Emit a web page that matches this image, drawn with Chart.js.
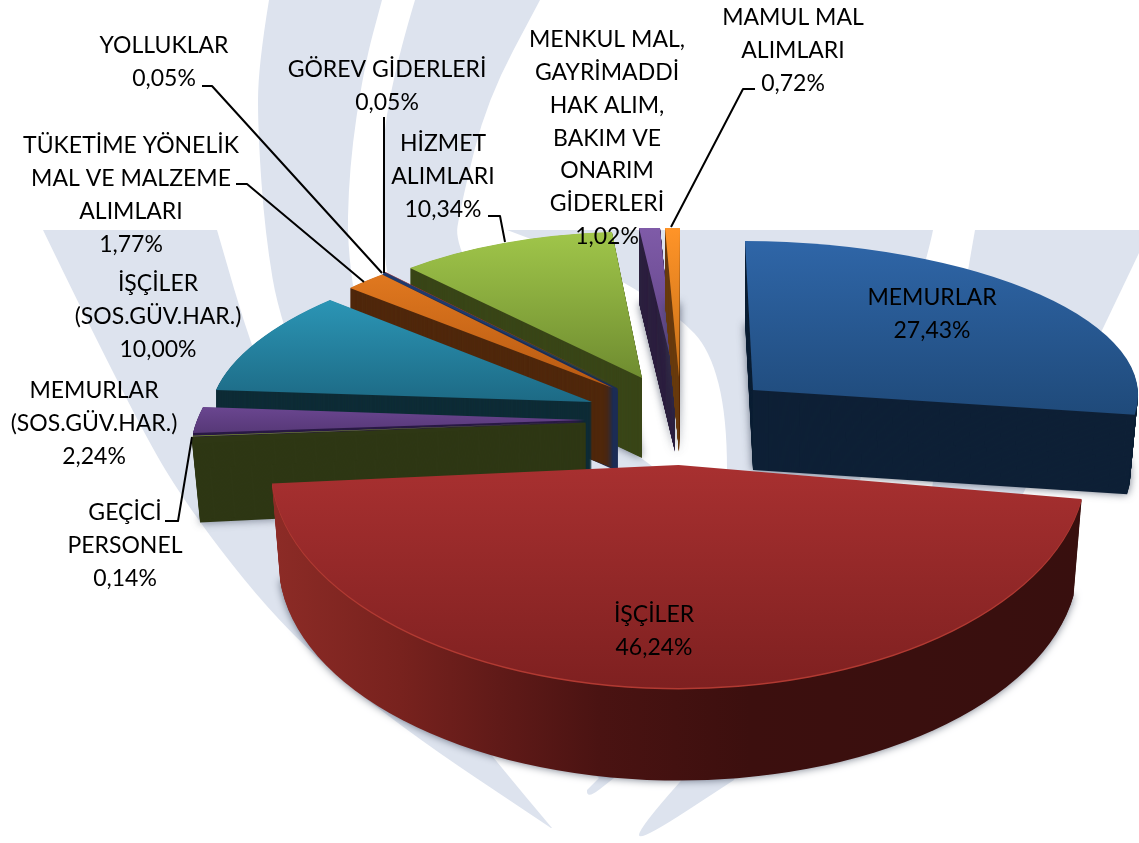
<!DOCTYPE html>
<html><head><meta charset="utf-8">
<style>html,body{margin:0;padding:0;background:#fff}canvas{display:block}</style>
<script src="https://cdn.jsdelivr.net/npm/chart.js@4"></script>
</head><body><canvas id="c" width="1139" height="843"></canvas>
<script>
// ---- data ----
const categories = [
  "MEMURLAR","İŞÇİLER","GEÇİCİ PERSONEL","MEMURLAR (SOS.GÜV.HAR.)","İŞÇİLER (SOS.GÜV.HAR.)",
  "TÜKETİME YÖNELİK MAL VE MALZEME ALIMLARI","YOLLUKLAR","GÖREV GİDERLERİ","HİZMET ALIMLARI",
  "MENKUL MAL, GAYRİMADDİ HAK ALIM, BAKIM VE ONARIM GİDERLERİ","MAMUL MAL ALIMLARI"];
const values = [27.43,46.24,0.14,2.24,10.00,1.77,0.05,0.05,10.34,1.02,0.72];
const labelLines = [
  ["MEMURLAR"],["İŞÇİLER"],["GEÇİCİ","PERSONEL"],["MEMURLAR","(SOS.GÜV.HAR.)"],["İŞÇİLER","(SOS.GÜV.HAR.)"],
  ["TÜKETİME YÖNELİK","MAL VE MALZEME","ALIMLARI"],["YOLLUKLAR"],["GÖREV GİDERLERİ"],["HİZMET","ALIMLARI"],
  ["MENKUL MAL,","GAYRİMADDİ","HAK ALIM,","BAKIM VE","ONARIM","GİDERLERİ"],["MAMUL MAL","ALIMLARI"]];

// ---- presentation ----
const baseColors = ["#2f66a8","#a83030","#7f9a30","#6a4690","#2b95b5","#e0781f","#1f3a6e","#a03030","#a0c64a","#7f5ba8","#ff9428"];
const labelPos = [[932,298],[654,615],[125,513],[94,391],[158,284],[131,146],[164,46],[387,70],[443,144],[607,40],[793,18]];
const lineGap = 32.7;
const leaders = {2:[[165,521],[178,521],[192,437]],5:[[236,184],[247,184],[364,282]],6:[[202,86],[212,86],[382,273]],
  7:[[384,117],[384,273]],8:[[488,216],[500,216],[505,242]],10:[[755,89],[743,89],[671,227]]};
// per-slice projection: apex + rim end points (or explicit matrix), wall depth and colours
const geo = {
 0:{apex:[753,390],M:[385,8,2,149],depth:80,s:.98,wall:"#0e2036",top:[240,"#2f66a8",415,"#1f4a7a"],shadow:1},
 1:{apex:[678.5,465],M:[408,0,0,223],depth:97,s:.98,top:[465,"#a83030",690,"#7e2020"],shadow:1,rim:"#b23a32",
    wallX:[[276,"#8c2b26"],[400,"#78221e"],[500,"#601a18"],[600,"#4a1312"],[750,"#3c0f0e"],[1080,"#380f0e"]]},
 2:{apex:[585,422],a:[192,436.5],b:[192.5,435.8],depth:80,s:.9865,wall:"#2e3714",top:[420,"#7f9a30",440,"#7f9a30"],shadow:1,
    wallShape:{apex:[785,414],a:[192,443],b:[192.5,436],clipX:585.5}},
 3:{apex:[585,420],a:[193,433],b:[203,407],depth:6,s:1,step:.5,wall:"#2a1a45",top:[407,"#6a4690",435,"#553775"]},
 4:{apex:[592,402],a:[216,390],b:[330,300],depth:68,s:1,step:.5,wall:"#0e2c36",top:[300,"#2b95b5",402,"#1d6a85"]},
 5:{apex:[613,388],a:[350,288],b:[382,274.5],depth:80,s:1,step:.5,wall:"#50280c",top:[275,"#e0781f",387,"#b85a12"]},
 6:{apex:[617,387],a:[382,274.5],b:[384.5,272],depth:80,s:1,wall:"#1c2d55",top:[272,"#1f3a6e",387,"#1f3a6e"],
    wallShape:{apex:[700,428],a:[380,286],b:[384,272],clipX:617.5}},
 7:{apex:[617,386],a:[384.5,272.5],b:[385.5,272],depth:0,s:1,wall:"#1c2d55",top:[272,"#a03030",387,"#a03030"]},
 8:{apex:[642,378],a:[410,268],b:[612,232],depth:80,s:1,step:.5,wall:"#3a4618",top:[232,"#a0c64a",378,"#6f8c30"],shadow:1},
 9:{apex:[675,377],a:[639,228],b:[660,228],depth:75,s:1,step:.25,wall:"#2e2140",top:[228,"#7f5ba8",377,"#5b3f80"],shadow:1},
 10:{apex:[679,377],a:[665,228],b:[680,228],depth:75,s:1,step:.25,wall:"#6b3e12",top:[228,"#ff9428",377,"#c87018"],shadow:1}
};
const drawOrder = [0,9,10,8,7,6,5,4,3,2,1];

function curve(ctx,pts,join){
  if(join) ctx.lineTo(pts[0][0],pts[0][1]); else ctx.moveTo(pts[0][0],pts[0][1]);
  for(let i=1;i<pts.length-1;i++){
    const mx=(pts[i][0]+pts[i+1][0])/2,my=(pts[i][1]+pts[i+1][1])/2;
    ctx.quadraticCurveTo(pts[i][0],pts[i][1],mx,my);
  }
  const l=pts[pts.length-1]; ctx.lineTo(l[0],l[1]);
}
function watermark(ctx){
  ctx.save(); ctx.fillStyle="#dde3ee";
  const shapes=[
   [[[43,230],[135,420],[196,520],[291,637],[400,727],[551,828]],[[549,843],[551,828]],[[552,828],[497,763],[400,640],[300,470],[251,347],[217,230]]],
   [[[269,0],[258,67],[258,133],[265,233],[280,323],[340,470],[450,650],[599,778]],[[587,790],[586,800],[614,778]],[[614,778],[480,600],[380,420],[347,267],[349,167],[364,67],[382,0]]],
   [[[415,0],[385,100],[382,200],[384,267],[420,430],[520,640],[690,770]],[[679,783],[639,828],[639,842],[734,780]],[[734,780],[800,600],[700,500],[560,400],[453,253],[462,200],[487,100],[540,0]]],
   [[[507,230],[933,230]],[[933,230],[928,257],[860,480]],[[727,470],[727,417],[710,350],[679,317],[621,280],[560,250],[507,230]]],
   [[[975,230],[1139,230]],[[1139,253],[1099,337],[1020,500]],[[930,500],[968,270],[975,230]]]
  ];
  for(const s of shapes){
    ctx.beginPath();
    s.forEach((p,i)=>curve(ctx,p,i>0));
    ctx.closePath(); ctx.fill();
  }
  ctx.restore();
}
function matrixFor(el,g){
  const R=el.outerRadius,cx=el.x,cy=el.y;let M=g.M;
  if(!M){
    const u1=[Math.cos(el.startAngle),Math.sin(el.startAngle)],u2=[Math.cos(el.endAngle),Math.sin(el.endAngle)];
    const v1=[g.a[0]-g.apex[0],g.a[1]-g.apex[1]],v2=[g.b[0]-g.apex[0],g.b[1]-g.apex[1]];
    const det=u1[0]*u2[1]-u2[0]*u1[1];
    M=[(v1[0]*u2[1]-v2[0]*u1[1])/det,(-v1[0]*u2[0]+v2[0]*u1[0])/det,
       (v1[1]*u2[1]-v2[1]*u1[1])/det,(-v1[1]*u2[0]+v2[1]*u1[0])/det];
  }
  return {M,R,cx,cy};
}
function setT(ctx,mi,ax,ay,sc){
  const a=mi.M[0]*sc/mi.R,c=mi.M[1]*sc/mi.R,b=mi.M[2]*sc/mi.R,d=mi.M[3]*sc/mi.R;
  const e=ax-(a*mi.cx+c*mi.cy),f=ay-(b*mi.cx+d*mi.cy);
  ctx.setTransform(a,b,c,d,e,f);
  return [a,b,c,d,e,f];
}
// linear gradient that is straight along a page axis whatever the slice's projection is
function pageGrad(ctx,t,axis,stops){
  const p=axis==='y'?t[1]:t[0],q=axis==='y'?t[3]:t[2],k=axis==='y'?t[5]:t[4];
  const n=p*p+q*q,v0=stops[0][0],v1=stops[stops.length-1][0];
  const g=ctx.createLinearGradient((v0-k)*p/n,(v0-k)*q/n,(v1-k)*p/n,(v1-k)*q/n);
  for(const s of stops) g.addColorStop((s[0]-v0)/(v1-v0),s[1]);
  return g;
}
function paint(ctx,el,fill){
  const o=el.options,saved=o.backgroundColor;
  o.backgroundColor=fill; el.draw(ctx); o.backgroundColor=saved;
}
const pie3d={
  id:'pie3d',
  beforeDraw(chart){
    const ctx=chart.ctx; ctx.save(); ctx.fillStyle="#fff"; ctx.fillRect(0,0,1139,843); watermark(ctx); ctx.restore();
  },
  beforeDatasetsDraw(chart){
    const ctx=chart.ctx,els=chart.getDatasetMeta(0).data;
    ctx.save();
    for(const i of drawOrder){
      const el=els[i],g=geo[i],mi=matrixFor(el,g),step=g.step||1;
      const ws=g.wallShape, wmi=ws?matrixFor(el,ws):mi, wApex=ws?ws.apex:g.apex;
      const wallFill=(t)=>g.wallX?pageGrad(ctx,t,'x',g.wallX):g.wall;
      ctx.save();
      if(ws){ctx.setTransform(1,0,0,1,0,0);ctx.beginPath();ctx.rect(0,0,ws.clipX,843);ctx.clip();}
      let first=true;
      for(let k=g.depth;k>=step;k-=step){
        const sc=1-(1-g.s)*k/g.depth;
        const t=setT(ctx,wmi,wApex[0],wApex[1]+k,sc);
        if(first&&g.shadow){ctx.shadowColor="rgba(60,70,90,.75)";ctx.shadowBlur=8;}
        else{ctx.shadowColor="transparent";ctx.shadowBlur=0;}
        first=false;
        paint(ctx,el,wallFill(t));
      }
      ctx.restore();
      ctx.shadowColor="transparent";ctx.shadowBlur=0;
      const top=[[g.top[0],g.top[1]],[g.top[2],g.top[3]]];
      if(g.rim){ setT(ctx,mi,g.apex[0],g.apex[1]+1.5,1); paint(ctx,el,g.rim); }
      const t=setT(ctx,mi,g.apex[0],g.apex[1],1); paint(ctx,el,pageGrad(ctx,t,'y',top));
    }
    ctx.restore();
    ctx.setTransform(1,0,0,1,0,0);
    return false;
  },
  afterDraw(chart){
    const ctx=chart.ctx; ctx.save(); ctx.setTransform(1,0,0,1,0,0);
    ctx.strokeStyle="#000";ctx.lineWidth=2;ctx.lineJoin="round";
    for(const k in leaders){
      ctx.beginPath();leaders[k].forEach((p,j)=>j?ctx.lineTo(p[0],p[1]):ctx.moveTo(p[0],p[1]));ctx.stroke();
    }
    ctx.fillStyle="#000";ctx.font="23px Lato";ctx.textAlign="center";ctx.textBaseline="middle";
    categories.forEach((c,i)=>{
      const lines=labelLines[i].concat(values[i].toFixed(2).replace('.',',')+'%');
      lines.forEach((s,j)=>ctx.fillText(s,labelPos[i][0],labelPos[i][1]+j*lineGap));
    });
    ctx.restore();
  }
};
new Chart(document.getElementById('c'),{
  type:'pie',
  data:{labels:categories,datasets:[{data:values,backgroundColor:baseColors,borderWidth:0}]},
  options:{responsive:false,animation:false,layout:{padding:0},
    plugins:{legend:{display:false},tooltip:{enabled:false},title:{display:false}}},
  plugins:[pie3d]
});
</script></body></html>
